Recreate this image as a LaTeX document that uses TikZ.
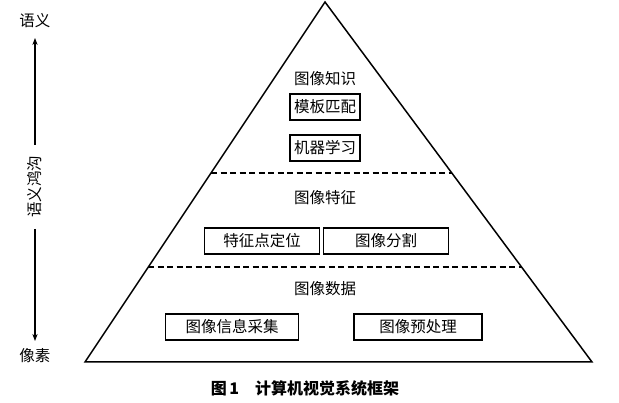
\documentclass[tikz,border=0pt]{standalone}
\usepackage{fontspec}
\setmainfont{Noto Sans CJK SC}
\usetikzlibrary{arrows.meta}
\begin{document}
\begin{tikzpicture}[x=1pt,y=-1pt,
  lbl/.style={font=\fontsize{15.5}{17}\selectfont,inner sep=0pt},
  bx/.style={draw,line width=1.3pt,font=\fontsize{15.5}{17}\selectfont,minimum height=26pt,inner xsep=4pt},
  dl/.style={line width=1.3pt,dash pattern=on 6pt off 3.5pt}]
\useasboundingbox (0,0) rectangle (619,403);
\coordinate (A) at (325,2); \coordinate (B) at (85,362); \coordinate (C) at (592,362);
\draw[line width=1.5pt] (A) -- (B) -- (C) -- cycle;
\coordinate (d1l) at (211,173); \coordinate (d1r) at (452,173);
\coordinate (d2l) at (148,267); \coordinate (d2r) at (521,267);
\draw[dl] (d1l) -- (d1r);
\draw[dl] (d2l) -- (d2r);
\node[lbl] (k) at (325,79) {图像知识};
\node[bx] (k1) at (325,107) {模板匹配};
\node[bx] (k2) at (325,148) {机器学习};
\node[lbl] (f) at (325,198) {图像特征};
\node[bx,minimum width=115pt] (f1) at (262,241) {特征点定位};
\node[bx,minimum width=125pt] (f2) at (386,241) {图像分割};
\node[lbl] (d) at (325,289) {图像数据};
\node[bx,minimum width=133pt] (d1) at (232,327) {图像信息采集};
\node[bx,minimum width=128pt] (d2) at (418,327) {图像预处理};
\node[lbl] (top) at (35,21) {语义};
\node[lbl] (bot) at (35,356) {像素};
\node[lbl,rotate=90] (gap) at (35,187) {语义鸿沟};
\coordinate (ga) at (35,38); \coordinate (gb) at (35,341);
\coordinate (g1) at (35,145); \coordinate (g2) at (35,229);
\draw[line width=1.3pt,-{Stealth[length=7pt]}] (g1) -- (ga);
\draw[line width=1.3pt,-{Stealth[length=7pt]}] (g2) -- (gb);
\node[lbl,font=\fontsize{16}{18}\selectfont\bfseries] (cap) at (305,388) {图\,1\quad 计算机视觉系统框架};
\end{tikzpicture}
\end{document}
